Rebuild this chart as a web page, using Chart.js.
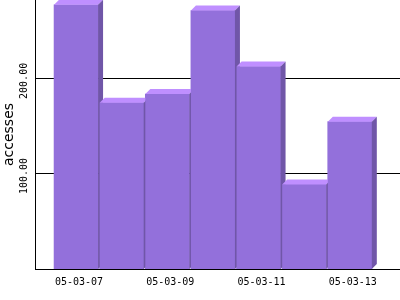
<!DOCTYPE html>
<html>
<head>
<meta charset="utf-8">
<script src="https://cdn.jsdelivr.net/npm/chart.js@4/dist/chart.umd.min.js"></script>
<style>
  html, body { margin: 0; padding: 0; background: #fff; }
  canvas { display: block; }
</style>
</head>
<body>
<canvas id="accessChart" width="400" height="300"></canvas>
<script>
const dates = ["05-03-07", "05-03-08", "05-03-09", "05-03-10", "05-03-11", "05-03-12", "05-03-13"];
const accesses = [278, 175, 184, 272, 213, 89, 155];
const yTicks = [100, 200];
const xTickIndexes = [0, 2, 4, 6];

const FRONT = "#9370db";
const TOP = "#bf8fff";
const SIDE = "#7056a8";
const DEPTH = 5;

// draws the bars again with a top and side face, left to right
const boxBars = {
  id: "boxBars",
  afterDatasetsDraw(chart) {
    const ctx = chart.ctx;
    const meta = chart.getDatasetMeta(0);
    ctx.save();
    meta.data.forEach((bar) => {
      const { x, y, base, width } = bar.getProps(["x", "y", "base", "width"], true);
      const left = x - width / 2;
      const right = x + width / 2;

      ctx.fillStyle = FRONT;
      ctx.fillRect(left, y, width, base - y);

      ctx.fillStyle = TOP;
      ctx.beginPath();
      ctx.moveTo(left, y);
      ctx.lineTo(left + DEPTH, y - DEPTH);
      ctx.lineTo(right + DEPTH, y - DEPTH);
      ctx.lineTo(right, y);
      ctx.closePath();
      ctx.fill();

      ctx.fillStyle = SIDE;
      ctx.beginPath();
      ctx.moveTo(right, y);
      ctx.lineTo(right + DEPTH, y - DEPTH);
      ctx.lineTo(right + DEPTH, base - DEPTH);
      ctx.lineTo(right, base);
      ctx.closePath();
      ctx.fill();
    });
    ctx.restore();
  },
};

const ctx = document.getElementById("accessChart").getContext("2d");
new Chart(ctx, {
  type: "bar",
  data: {
    datasets: [
      {
        data: accesses.map((v, i) => ({ x: i, y: v })),
        backgroundColor: FRONT,
        borderWidth: 0,
        barThickness: 44,
      },
    ],
  },
  options: {
    responsive: false,
    animation: false,
    devicePixelRatio: 1,
    layout: { padding: 0 },
    plugins: {
      legend: { display: false },
      tooltip: { enabled: false },
    },
    scales: {
      x: {
        type: "linear",
        offset: false,
        min: -0.9,
        max: 7.1,
        afterBuildTicks: (scale) => {
          scale.ticks = xTickIndexes.map((v) => ({ value: v }));
        },
        afterFit: (scale) => {
          scale.height = 31;
        },
        grid: { display: false, drawTicks: false, offset: false },
        border: { display: true, color: "#000", width: 1 },
        ticks: {
          color: "#000",
          font: { family: "DejaVu Sans Mono", size: 10 },
          padding: 7,
          labelOffset: 3,
          maxRotation: 0,
          autoSkip: false,
          callback: (v) => dates[v],
        },
      },
      y: {
        min: 0,
        max: 283,
        afterBuildTicks: (scale) => {
          scale.ticks = yTicks.map((v) => ({ value: v }));
        },
        afterFit: (scale) => {
          scale.width = 35;
        },
        grid: { color: "#000", lineWidth: 1, drawTicks: false },
        border: { display: true, color: "#000", width: 1 },
        ticks: {
          color: "#000",
          font: { family: "DejaVu Sans Mono", size: 10 },
          minRotation: 90,
          maxRotation: 90,
          crossAlign: "center",
          padding: -7,
          labelOffset: 2,
          callback: (v) => v.toFixed(2),
        },
        title: {
          display: true,
          text: "accesses",
          color: "#000",
          font: { family: "DejaVu Sans", size: 14 },
          padding: { top: 1, bottom: 0 },
        },
      },
    },
  },
  plugins: [boxBars],
});
</script>
</body>
</html>
